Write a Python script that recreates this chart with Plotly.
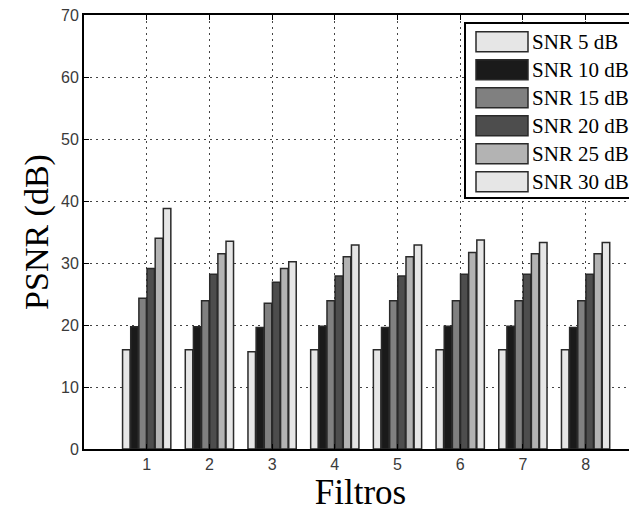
import plotly.graph_objects as go

filters = [1, 2, 3, 4, 5, 6, 7, 8]
series_names = ["SNR 5 dB", "SNR 10 dB", "SNR 15 dB", "SNR 20 dB", "SNR 25 dB", "SNR 30 dB"]
snr5 = [16.0, 16.0, 15.7, 16.0, 16.0, 16.0, 16.0, 16.0]
snr10 = [19.7, 19.7, 19.6, 19.8, 19.6, 19.8, 19.8, 19.6]
snr15 = [24.3, 23.9, 23.5, 23.9, 23.9, 23.9, 23.9, 23.9]
snr20 = [29.1, 28.2, 26.9, 27.9, 27.9, 28.2, 28.2, 28.2]
snr25 = [34.0, 31.5, 29.1, 31.0, 31.0, 31.7, 31.5, 31.5]
snr30 = [38.8, 33.5, 30.2, 32.9, 32.9, 33.7, 33.3, 33.3]
y_ticks = [0, 10, 20, 30, 40, 50, 60, 70]

colors = ["#e6e6e6", "#1a1a1a", "#808080", "#4d4d4d", "#b3b3b3", "#e6e6e6"]
values = [snr5, snr10, snr15, snr20, snr25, snr30]

# page is rendered with the default 8px body margin
OFF = 8
W, H = 637 - OFF, 514 - OFF
ML, MR, MT, MB = 84 - OFF, 0, 15 - OFF, 65
PW = W - ML - MR
PH = H - MT - MB

def px(xp):  # page pixel -> paper x
    return (xp - OFF - ML) / PW

def py(yp):  # page pixel -> paper y
    return (H - MB - (yp - OFF)) / PH

fig = go.Figure()
for name, vals, col in zip(series_names, values, colors):
    fig.add_trace(go.Bar(
        x=filters, y=vals, name=name,
        marker=dict(color=col, line=dict(color="#2a2a2a", width=1.5)),
        showlegend=False,
    ))

serif = "Liberation Serif, Times New Roman, serif"
sans = "Liberation Sans, Arial, sans-serif"

shapes = []
annotations = []
# custom legend box (MATLAB style)
shapes.append(dict(type="rect", xref="paper", yref="paper",
                   x0=px(465), x1=px(650), y0=py(198), y1=py(23),
                   line=dict(color="black", width=2), fillcolor="white", layer="above"))
for i, (name, col) in enumerate(zip(series_names, colors)):
    cy = 41.7 + i * 28.0
    shapes.append(dict(type="rect", xref="paper", yref="paper",
                       x0=px(476), x1=px(528), y0=py(cy + 10), y1=py(cy - 10),
                       line=dict(color="#2a2a2a", width=1.5), fillcolor=col, layer="above"))
    annotations.append(dict(xref="paper", yref="paper", x=px(530), y=py(cy),
                            xanchor="left", yanchor="middle", showarrow=False,
                            text=name, font=dict(family=serif, size=21, color="black")))

fig.update_layout(
    width=W, height=H,
    margin=dict(l=ML, r=MR, t=MT, b=MB, autoexpand=False),
    paper_bgcolor="white", plot_bgcolor="white",
    barmode="group", bargap=0.22, bargroupgap=0.08,
    shapes=shapes, annotations=annotations,
    showlegend=False,
)
fig.update_xaxes(
    range=[0, PW / 62.7], tickvals=filters, ticktext=[str(f) for f in filters],
    showline=True, linecolor="black", linewidth=2, mirror="ticks",
    ticks="inside", ticklen=5, tickcolor="black", tickwidth=1,
    showgrid=True, gridcolor="#444444", griddash="1.5px,4.5px", gridwidth=1,
    zeroline=False, automargin=False, ticklabeloverflow="allow",
    tickfont=dict(family=sans, size=16, color="#3a3a3a"),
    title=dict(text="Filtros", font=dict(family=serif, size=35, color="black"), standoff=2),
)
fig.update_yaxes(
    range=[0, 70], tickvals=y_ticks,
    showline=True, linecolor="black", linewidth=2, mirror=False,
    ticks="inside", ticklen=5, tickcolor="black", tickwidth=1,
    showgrid=True, gridcolor="#444444", griddash="1.5px,4.5px", gridwidth=1,
    zeroline=False, automargin=False, ticklabeloverflow="allow",
    tickfont=dict(family=sans, size=16, color="#3a3a3a"),
    title=dict(text="PSNR (dB)", font=dict(family=serif, size=34, color="black"), standoff=2),
)

fig.write_html("out.html")
